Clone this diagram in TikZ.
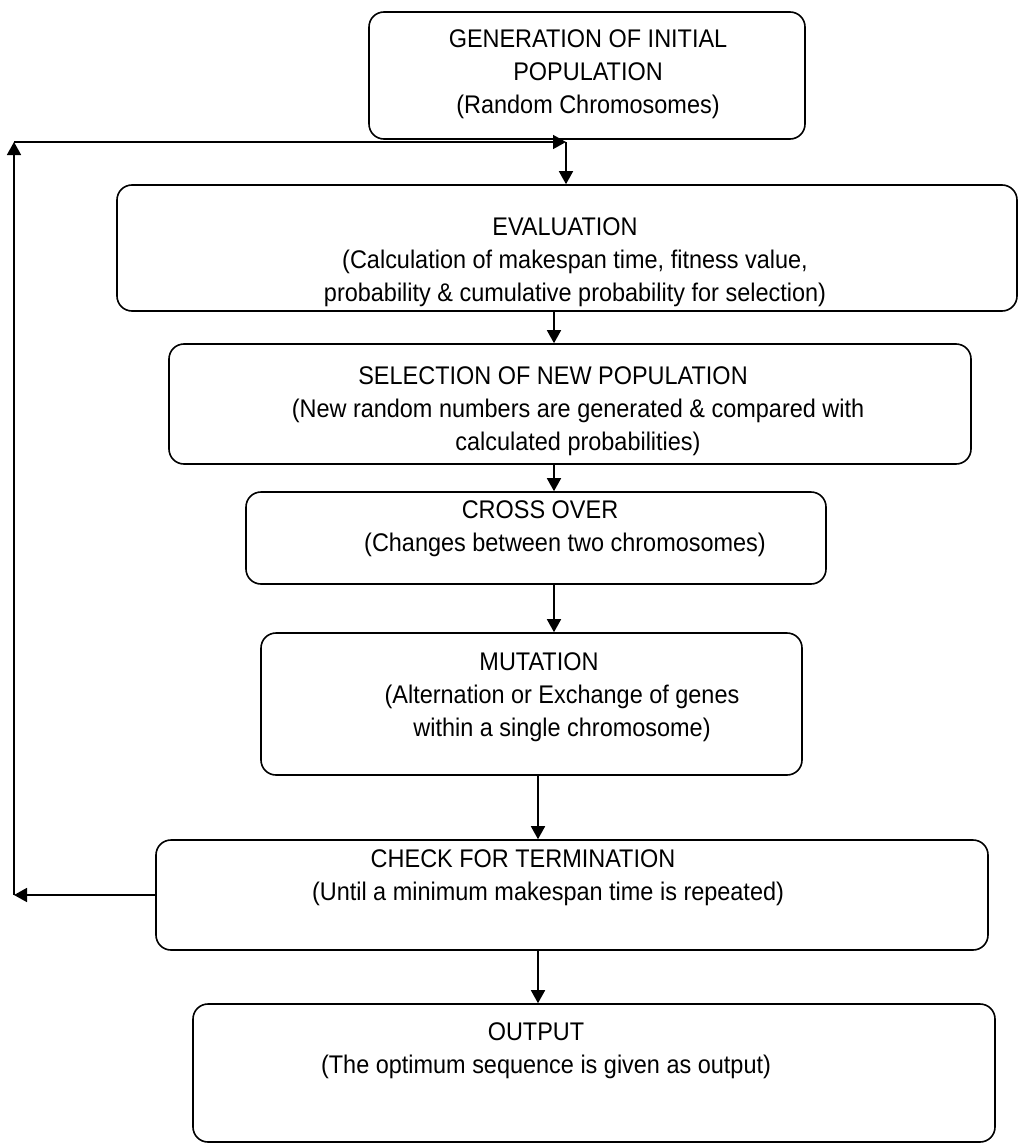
\documentclass[tikz,border=0pt]{standalone}
\usepackage{fontspec}
\setmainfont{Liberation Sans}[FakeStretch=0.92]
\usetikzlibrary{arrows.meta}

\begin{document}
\begin{tikzpicture}[x=1pt,y=-1pt,
  box/.style={draw,line width=1.6pt,rounded corners=15pt,inner sep=0pt},
  txt/.style={anchor=north,align=center,inner sep=0pt,font=\fontsize{25.5}{33}\selectfont},
  arr/.style={line width=1.6pt,-{Triangle[length=13pt,width=14pt]}}]
  \useasboundingbox (0,0) rectangle (1018,1145);
  % the boxes
  \node[box,minimum width=436,minimum height=127] (gen) at (587,75.5) {};
  \node[box,minimum width=900,minimum height=126] (eval) at (567,248) {};
  \node[box,minimum width=802,minimum height=120] (sel) at (570,404) {};
  \node[box,minimum width=580,minimum height=92] (cross) at (536,538) {};
  \node[box,minimum width=541,minimum height=142] (mut) at (531.5,704) {};
  \node[box,minimum width=832,minimum height=110] (check) at (572,895) {};
  \node[box,minimum width=802,minimum height=138] (out) at (594,1073) {};
  % the texts
  \node[txt] (gen-t) at (588,29) {GENERATION OF INITIAL\\POPULATION\\(Random Chromosomes)};
  \node[txt] (eval-t) at (575,217) {EVALUATION\hspace*{20pt}\\(Calculation of makespan time, fitness value,\\probability \& cumulative probability for selection)};
  \node[txt] (sel-t) at (578,366) {SELECTION OF NEW POPULATION\hspace*{50pt}\\(New random numbers are generated \& compared with\\calculated probabilities)};
  \node[txt] (cross-t) at (565,500) {CROSS OVER\hspace*{50pt}\\(Changes between two chromosomes)};
  \node[txt] (mut-t) at (562,652) {MUTATION\hspace*{46pt}\\(Alternation or Exchange of genes\\within a single chromosome)};
  \node[txt] (check-t) at (548,849) {CHECK FOR TERMINATION\hspace*{50pt}\\(Until a minimum makespan time is repeated)};
  \node[txt] (out-t) at (546,1022) {OUTPUT\hspace*{20pt}\\(The optimum sequence is given as output)};
  % columns of the arrows
  \coordinate (c0) at (566,0);
  \coordinate (c1) at (554,0);
  \coordinate (c2) at (538,0);
  \coordinate (fb) at (14,0);
  \coordinate (hl) at (0,142);
  \draw[arr] (c0 |- hl) -- (c0 |- eval.north);
  \draw[arr] (c1 |- eval.south) -- (c1 |- sel.north);
  \draw[arr] (c1 |- sel.south) -- (c1 |- cross.north);
  \draw[arr] (c1 |- cross.south) -- (c1 |- mut.north);
  \draw[arr] (c2 |- mut.south) -- (c2 |- check.north);
  \draw[arr] (c2 |- check.south) -- (c2 |- out.north);
  % loop back
  \draw[arr] (check.west) -- (fb |- check.west);
  \draw[arr] (fb |- check.west) -- (fb |- hl);
  \draw[arr] (fb |- hl) -- (c0 |- hl);
\end{tikzpicture}
\end{document}
